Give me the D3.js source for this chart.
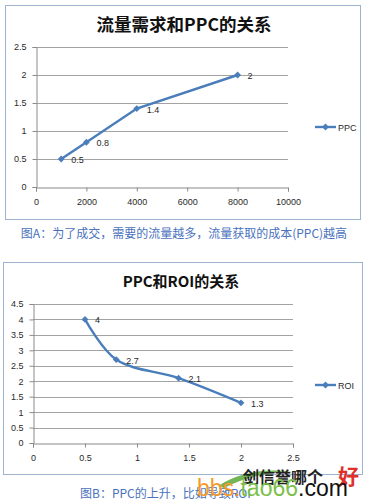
<!DOCTYPE html>
<html>
<head>
<meta charset="utf-8">
<script src="https://cdn.jsdelivr.net/npm/d3@7"></script>
<style>
  body { margin: 0; background: #fff; }
  svg { display: block; }
</style>
</head>
<body>
<figure style="margin:0"></figure>
<script>
// chart A: traffic vs PPC
var trafficA = [1000, 2000, 4000, 8000];
var ppcA = [0.5, 0.8, 1.4, 2];
var xTicksA = [0, 2000, 4000, 6000, 8000, 10000];
var yTicksA = [0, 0.5, 1, 1.5, 2, 2.5];

// chart B: PPC vs ROI
var ppcB = [0.5, 0.8, 1.4, 2];
var roiB = [4, 2.7, 2.1, 1.3];
var xTicksB = [0, 0.5, 1, 1.5, 2, 2.5];
var yTicksB = [0, 0.5, 1, 1.5, 2, 2.5, 3, 3.5, 4, 4.5];

var lineColor = "#4a7ebb";
var gridColor = "#a3a3a3";
var capColor = "#4a72bd";

var svg = d3.select("figure").append("svg")
    .attr("width", 365)
    .attr("height", 502);

function chart(opt) {
    var g = svg.append("g");

    // outer frame
    g.append("rect")
        .attr("x", opt.box[0] + 0.5).attr("y", opt.box[1] + 0.5)
        .attr("width", opt.box[2]).attr("height", opt.box[3])
        .attr("fill", "#fff").attr("stroke", "#9db3cf");

    // title
    g.append("text")
        .attr("x", opt.titleX).attr("y", opt.titleY)
        .attr("text-anchor", "middle").attr("dominant-baseline", "central")
        .style("font-family", "'Noto Sans CJK SC', sans-serif")
        .style("font-weight", "bold").style("font-size", opt.titleSize + "px")
        .attr("fill", "#111")
        .text(opt.title);

    var x = d3.scaleLinear().domain(opt.xDomain).range(opt.xRange);
    var y = d3.scaleLinear().domain(opt.yDomain).range(opt.yRange);

    // gridlines
    g.append("g").selectAll("line")
        .data(opt.yTicks.filter(function(d) { return d > 0; }))
        .enter().append("line")
        .attr("x1", opt.xRange[0]).attr("x2", opt.xRange[1])
        .attr("y1", function(d) { return Math.round(y(d)) + 0.5; })
        .attr("y2", function(d) { return Math.round(y(d)) + 0.5; })
        .attr("stroke", gridColor);

    var xaxis = d3.axisBottom(x).tickValues(opt.xTicks).tickSize(4).tickPadding(7)
        .tickFormat(d3.format("~g"));
    var yaxis = d3.axisLeft(y).tickValues(opt.yTicks).tickSize(4).tickPadding(6)
        .tickFormat(d3.format("~g"));

    var gx = g.append("g")
        .attr("transform", "translate(0," + (Math.round(y(0)) + 0.5) + ")")
        .call(xaxis);
    g.append("g")
        .attr("transform", "translate(" + (Math.round(x(0)) + 0.5) + ",0)")
        .call(yaxis);
    g.selectAll(".domain").attr("stroke", "#8a8a8a");
    g.selectAll(".tick line").attr("stroke", "#8a8a8a");
    gx.selectAll(".tick text").attr("dy", "0.71em");
    g.selectAll(".tick text").style("font-family", "'Liberation Sans', Arial, sans-serif")
        .style("font-size", "9px").attr("fill", "#2a2a2a");

    var pts = opt.xs.map(function(d, i) { return [d, opt.ys[i]]; });

    var line = d3.line()
        .x(function(d) { return x(d[0]); })
        .y(function(d) { return y(d[1]); })
        .curve(opt.curve);

    g.append("path")
        .datum(pts)
        .attr("d", line)
        .attr("fill", "none")
        .attr("stroke", lineColor)
        .attr("stroke-width", 2.4);

    var diamond = d3.symbol().type(d3.symbolDiamond2).size(30);
    g.append("g").selectAll("path")
        .data(pts).enter().append("path")
        .attr("transform", function(d) { return "translate(" + x(d[0]) + "," + y(d[1]) + ")"; })
        .attr("d", diamond)
        .attr("fill", lineColor);

    // data labels
    g.append("g").selectAll("text")
        .data(pts).enter().append("text")
        .attr("x", function(d) { return x(d[0]) + 10; })
        .attr("y", function(d) { return y(d[1]) + 1; })
        .attr("dominant-baseline", "central")
        .style("font-family", "'Liberation Sans', Arial, sans-serif")
        .style("font-size", "9px").attr("fill", "#2a2a2a")
        .text(function(d) { return d3.format("~g")(d[1]); });

    // legend
    var lg = g.append("g").attr("transform", "translate(315," + opt.legendY + ")");
    lg.append("line").attr("x1", 0).attr("x2", 21)
        .attr("stroke", lineColor).attr("stroke-width", 2.4);
    lg.append("path").attr("transform", "translate(10.5,0)")
        .attr("d", diamond).attr("fill", lineColor);
    lg.append("text").attr("x", 23).attr("y", 0.5)
        .attr("dominant-baseline", "central")
        .style("font-family", "'Liberation Sans', Arial, sans-serif")
        .style("font-size", "9px").attr("fill", "#2a2a2a")
        .text(opt.legend);

    // caption
    g.append("text")
        .attr("x", opt.capX).attr("y", opt.capY)
        .attr("text-anchor", opt.capAnchor).attr("dominant-baseline", "central")
        .style("font-family", "'Noto Sans CJK SC', sans-serif")
        .style("font-size", "12px").attr("fill", capColor)
        .text(opt.caption);
}

chart({
    box: [5, 5, 355, 214],
    title: "流量需求和PPC的关系", titleX: 184, titleY: 23, titleSize: 17.5,
    xDomain: [0, 10000], xRange: [36, 288],
    yDomain: [0, 2.5], yRange: [187, 47],
    xTicks: xTicksA, yTicks: yTicksA,
    xs: trafficA, ys: ppcA, curve: d3.curveLinear,
    legend: "PPC", legendY: 127,
    caption: "图A：为了成交，需要的流量越多，流量获取的成本(PPC)越高",
    capX: 184, capY: 232, capAnchor: "middle"
});

chart({
    box: [3, 262, 359, 212],
    title: "PPC和ROI的关系", titleX: 181, titleY: 280, titleSize: 15,
    xDomain: [0, 2.5], xRange: [33, 293],
    yDomain: [0, 4.5], yRange: [443, 304],
    xTicks: xTicksB, yTicks: yTicksB,
    xs: ppcB, ys: roiB, curve: d3.curveCatmullRom.alpha(0.5),
    legend: "ROI", legendY: 385,
    caption: "图B：PPC的上升，比如导致ROI",
    capX: 80, capY: 492, capAnchor: "start"
});

// site watermark over the lower right corner
var wm = svg.append("g");
wm.append("path")
    .attr("d", "M218,486 Q250,466 292,472 Q255,472 224,488 Z")
    .attr("fill", "#5aa83a").attr("opacity", 0.85);
wm.append("text").attr("x", 243).attr("y", 476).attr("dominant-baseline", "central")
    .style("font-family", "'Noto Sans CJK SC', sans-serif").style("font-size", "16px")
    .style("font-weight", "bold").attr("fill", "#222").text("剑信誉哪个");
wm.append("text").attr("x", 338).attr("y", 475).attr("dominant-baseline", "central")
    .style("font-family", "'Noto Sans CJK SC', sans-serif").style("font-size", "21px")
    .style("font-weight", "bold").attr("fill", "#e0302a").text("好");
var wt = wm.append("text").attr("x", 197).attr("y", 488).attr("dominant-baseline", "central")
    .style("font-family", "'Liberation Sans', Arial, sans-serif").style("font-size", "23px");
wt.append("tspan").attr("fill", "#f59a2a").text("bbs.");
wt.append("tspan").attr("fill", "#7cc04a").text("tao66");
wt.append("tspan").attr("fill", "#111").text(".com");
</script>
</body>
</html>
